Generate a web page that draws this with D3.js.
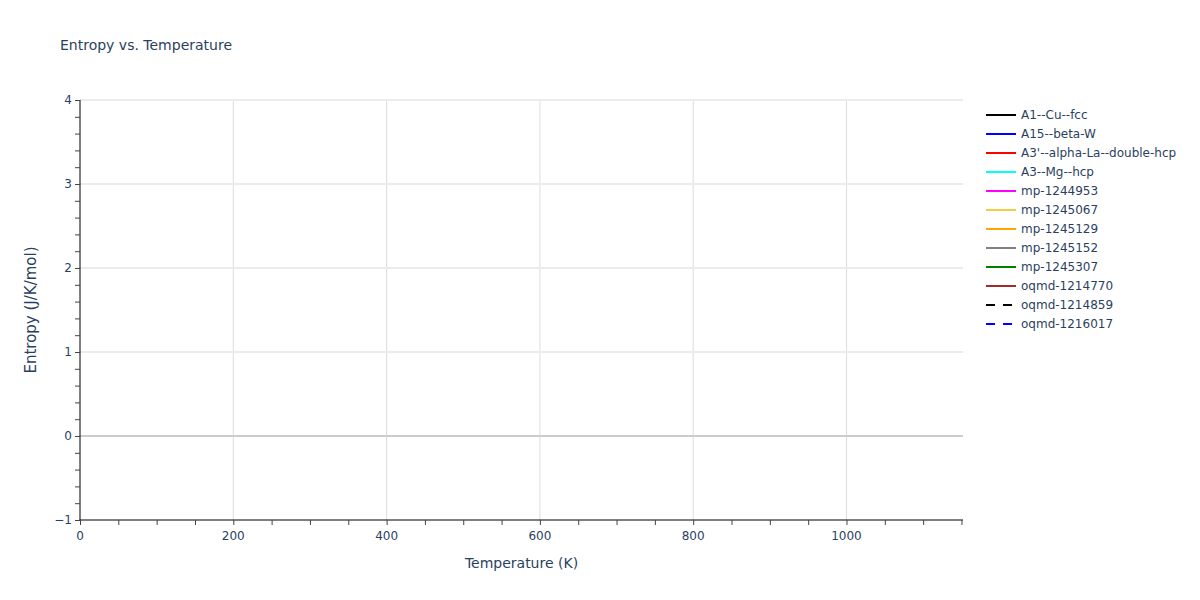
<!DOCTYPE html>
<html>
<head>
<meta charset="utf-8">
<script src="https://cdn.jsdelivr.net/npm/d3@7"></script>
<style>
  body { margin: 0; background: #fff; }
  text { font-family: "DejaVu Sans", Verdana, sans-serif; fill: #2a3f5f; }
</style>
</head>
<body>
<div id="chart"></div>
<script>
// series shown in the legend; no curve is visible in the plot area
var seriesNames = ["A1--Cu--fcc", "A15--beta-W", "A3'--alpha-La--double-hcp", "A3--Mg--hcp",
                   "mp-1244953", "mp-1245067", "mp-1245129", "mp-1245152", "mp-1245307",
                   "oqmd-1214770", "oqmd-1214859", "oqmd-1216017"];
var seriesColors = ["black", "blue", "red", "cyan", "magenta", "#f2cd45", "orange", "gray",
                    "green", "brown", "black", "blue"];
var seriesDash = [null, null, null, null, null, null, null, null, null, null, "9,8", "9,8"];
var temperatures = [];
var seriesValues = [[], [], [], [], [], [], [], [], [], [], [], []];

var xTicks = [0, 200, 400, 600, 800, 1000];
var yTicks = [-1, 0, 1, 2, 3, 4];

var width = 1200, height = 600;
var margin = {left: 80, right: 237, top: 100, bottom: 80};

var svg = d3.select("#chart").append("svg")
    .attr("width", width).attr("height", height);

var x = d3.scaleLinear().domain([0, 1152]).range([margin.left, width - margin.right]);
var y = d3.scaleLinear().domain([-1, 4]).range([height - margin.bottom, margin.top]);

// grid
svg.append("g").selectAll("line").data(xTicks.filter(function(d){ return d > 0; }))
  .enter().append("line")
    .attr("x1", function(d){ return x(d); }).attr("x2", function(d){ return x(d); })
    .attr("y1", y(4)).attr("y2", y(-1))
    .style("stroke", "#dcdcdc").style("stroke-width", 1);
svg.append("g").selectAll("line").data(yTicks.filter(function(d){ return d > 0; }))
  .enter().append("line")
    .attr("x1", x(0)).attr("x2", x(1152))
    .attr("y1", function(d){ return y(d); }).attr("y2", function(d){ return y(d); })
    .style("stroke", "#ebebeb").style("stroke-width", 2);
// zero line
svg.append("line")
    .attr("x1", x(0)).attr("x2", x(1152)).attr("y1", y(0)).attr("y2", y(0))
    .style("stroke", "#cccccc").style("stroke-width", 2);

// series lines
var line = d3.line()
    .x(function(d, i){ return x(temperatures[i]); })
    .y(function(d){ return y(d); });
seriesValues.forEach(function(vals, i){
  svg.append("path").datum(vals)
    .attr("d", line)
    .style("fill", "none")
    .style("stroke", seriesColors[i])
    .style("stroke-width", 2)
    .style("stroke-dasharray", seriesDash[i]);
});

// axes
var xAxis = svg.append("g").attr("transform", "translate(0," + y(-1) + ")")
    .call(d3.axisBottom(x).tickValues(d3.range(0, 1152, 50)).tickSize(5).tickFormat(""));
xAxis.select(".domain").attr("d", "M" + (x(0) - 0.5) + ",0H" + x(1152)).style("stroke", "#000");
xAxis.selectAll(".tick line").style("stroke", "#444");
svg.append("g").selectAll("text").data(xTicks).enter().append("text")
    .attr("x", function(d){ return x(d); }).attr("y", y(-1) + 20)
    .style("text-anchor", "middle").style("font-size", "12px")
    .text(function(d){ return d; });

var yAxis = svg.append("g").attr("transform", "translate(" + x(0) + ",0)")
    .call(d3.axisLeft(y).tickValues(d3.range(-1, 4.01, 0.2)).tickSize(5).tickFormat(""));
yAxis.select(".domain").attr("d", "M0," + y(4) + "V" + y(-1)).style("stroke", "#000");
yAxis.selectAll(".tick line").style("stroke", "#444");
svg.append("g").selectAll("text").data(yTicks).enter().append("text")
    .attr("x", x(0) - 8).attr("y", function(d){ return y(d) + 4; })
    .style("text-anchor", "end").style("font-size", "12px")
    .text(function(d){ return d < 0 ? "\u2212" + Math.abs(d) : d; });

// titles
svg.append("text").attr("x", 60).attr("y", 50)
    .style("font-size", "14px").text("Entropy vs. Temperature");
svg.append("text").attr("x", (x(0) + x(1152)) / 2).attr("y", 568)
    .style("text-anchor", "middle").style("font-size", "14px").text("Temperature (K)");
svg.append("text").attr("transform", "translate(36," + (y(-1) + y(4)) / 2 + ") rotate(-90)")
    .style("text-anchor", "middle").style("font-size", "15px").text("Entropy (J/K/mol)");

// legend
var legend = svg.append("g").attr("transform", "translate(986,115)");
seriesNames.forEach(function(name, i){
  var g = legend.append("g").attr("transform", "translate(0," + i * 19 + ")");
  g.append("line").attr("x1", 0).attr("x2", 30).attr("y1", 0).attr("y2", 0)
    .style("stroke", seriesColors[i]).style("stroke-width", 2)
    .style("stroke-dasharray", seriesDash[i]);
  g.append("text").attr("x", 35).attr("y", 4).style("font-size", "12px").text(name);
});
</script>
</body>
</html>
